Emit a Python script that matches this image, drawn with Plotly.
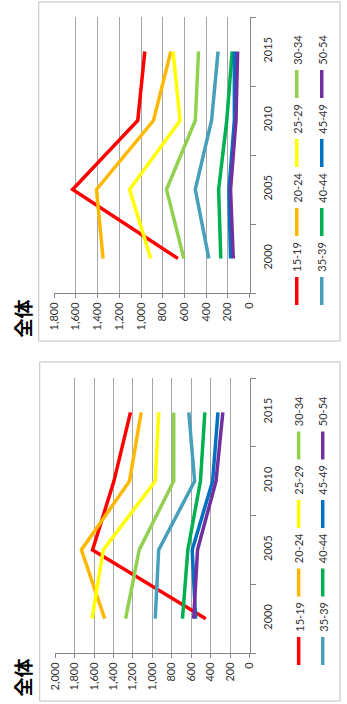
import plotly.graph_objects as go

W, H = 347, 704

years = ["2000", "2005", "2010", "2015"]
ages = ["15-19", "20-24", "25-29", "30-34", "35-39", "40-44", "45-49", "50-54"]
colors = ["#FF0000", "#FFB800", "#FFFF00", "#92D050",
          "#46A0BC", "#00B050", "#0070C0", "#7030A0"]

# upper chart
upper_15_19 = [660, 1630, 1030, 965]
upper_20_24 = [1350, 1410, 885, 725]
upper_25_29 = [910, 1105, 640, 705]
upper_30_34 = [605, 765, 500, 470]
upper_35_39 = [375, 500, 350, 290]
upper_40_44 = [265, 285, 210, 160]
upper_45_49 = [175, 190, 140, 140]
upper_50_54 = [150, 175, 125, 110]

# lower chart
lower_15_19 = [450, 1615, 1395, 1225]
lower_20_24 = [1490, 1730, 1235, 1115]
lower_25_29 = [1620, 1505, 970, 935]
lower_30_34 = [1275, 1135, 780, 780]
lower_35_39 = [970, 935, 565, 625]
lower_40_44 = [690, 635, 505, 460]
lower_45_49 = [555, 590, 380, 325]
lower_50_54 = [575, 535, 345, 275]

upper = [upper_15_19, upper_20_24, upper_25_29, upper_30_34,
         upper_35_39, upper_40_44, upper_45_49, upper_50_54]
lower = [lower_15_19, lower_20_24, lower_25_29, lower_30_34,
         lower_35_39, lower_40_44, lower_45_49, lower_50_54]


def px(x):
    return x / W


def py(y):
    return 1 - y / H


FONT = "Lato, 'Noto Sans', sans-serif"
CJK = "'Noto Sans CJK JP', sans-serif"
GRID = "#a6a6a6"
AXIS = "#868686"

fig = go.Figure()
pos = list(range(len(years)))

for vals, ax in [(upper, ""), (lower, "2")]:
    for name, col, v in zip(ages, colors, vals):
        fig.add_trace(go.Scatter(x=v, y=pos, mode="lines", name=name,
                                 line=dict(color=col, width=3.5),
                                 xaxis="x" + ax, yaxis="y" + ax,
                                 showlegend=False, hoverinfo="x+name"))

# chart panels: (axis suffix, max value, left px, top px, bottom px)
panels = [("", 1800, 49, 17, 293), ("2", 2000, 50, 378, 653)]
layout_axes = {}
for ax, vmax, left, top, bottom in panels:
    layout_axes["xaxis" + ax] = dict(
        domain=[px(left), px(252)], range=[vmax, 0], anchor="y" + ax,
        dtick=200, tickformat=",d", tickangle=-90, showgrid=True,
        gridcolor=GRID, gridwidth=1, showline=True, linecolor=AXIS,
        ticks="outside", ticklen=4, tickcolor=AXIS, zeroline=False,
        tickfont=dict(family=FONT, size=11, color="#333333"), fixedrange=True)
    layout_axes["yaxis" + ax] = dict(
        domain=[py(bottom), py(top)], range=[-0.5, 3.5], anchor="x" + ax,
        side="right", tickvals=pos, ticktext=years, tickangle=-90,
        ticks="", showgrid=False, zeroline=False, showline=True,
        linecolor=AXIS, ticklabelstandoff=8,
        minor=dict(tickvals=[-0.5, 0.5, 1.5, 2.5, 3.5], ticks="outside",
                   ticklen=5, tickcolor=AXIS, showgrid=False),
        tickfont=dict(family=FONT, size=11, color="#333333"), fixedrange=True)

shapes = []
annotations = []
# borders and titles
for x0, y0, x1, y1, ty in [(33, 2, 346, 341, 318), (34, 362, 346, 701, 677)]:
    shapes.append(dict(type="rect", xref="paper", yref="paper",
                       x0=px(x0), x1=px(x1), y0=py(y1), y1=py(y0),
                       line=dict(color="#bfbfbf", width=1)))
    annotations.append(dict(text="<b>全体</b>", xref="paper", yref="paper",
                            x=px(16), y=py(ty), textangle=-90, showarrow=False,
                            xanchor="center", yanchor="middle",
                            font=dict(family=CJK, size=19, color="#000000")))

# legends: (first row x, second row x, line bottom y, pitch)
for rx1, rx2, base, pitch in [(301, 327, 305, 69), (303, 328, 665, 68.5)]:
    for i, (name, col) in enumerate(zip(ages, colors)):
        lx = rx1 if i < 4 else rx2
        k = i % 4
        yb = base - pitch * k
        shapes.append(dict(type="line", xref="paper", yref="paper",
                           x0=px(lx), x1=px(lx), y0=py(yb), y1=py(yb - 28),
                           line=dict(color=col, width=3.5)))
        annotations.append(dict(text=name, xref="paper", yref="paper",
                                x=px(lx), y=py(yb - 48), textangle=-90,
                                showarrow=False, xanchor="center",
                                yanchor="middle",
                                font=dict(family=FONT, size=11, color="#333333")))

fig.update_layout(
    width=W, height=H, margin=dict(l=0, r=0, t=0, b=0),
    paper_bgcolor="white", plot_bgcolor="white",
    shapes=shapes, annotations=annotations, showlegend=False,
    **layout_axes)

# the page body has a default 8px margin; drop it so the figure fills the window
fig.write_html("out.html", config={"displayModeBar": False},
               post_script="document.body.style.margin = '0';")
